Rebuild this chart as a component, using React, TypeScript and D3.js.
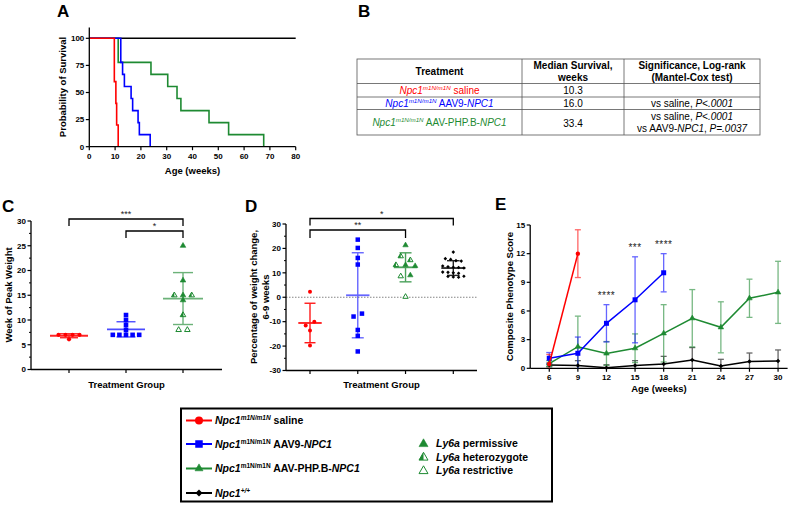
import React from 'react';
import * as d3 from 'd3';

const FONT = "'Liberation Sans', Arial, Helvetica, sans-serif";
const RED = '#ff0000';
const BLUE = '#0000ff';
const GREEN = '#1e8a32';
const BLACK = '#000000';

// ---------- Panel A: Kaplan–Meier ----------
const kmWeekTicks = [0, 10, 20, 30, 40, 50, 60, 70, 80];
const kmSurvTicks = [0, 25, 50, 75, 100];
const salineDeathWeeks = [9.7, 10.3, 10.6, 11.2];
const salineSurvival = [60, 40, 20, 0];
const aav9DeathWeeks = [12.2, 12.9, 13.6, 16.2, 16.8, 18.9, 19.4, 23.6];
const aav9Survival = [77.8, 66.7, 55.6, 44.4, 33.3, 22.2, 11.1, 0];
const phpbDeathWeeks = [11.2, 23.9, 30.4, 34.0, 35.5, 46.4, 54.0, 67.6];
const phpbSurvival = [77.8, 66.7, 55.6, 44.4, 33.3, 22.2, 11.1, 0];
const wtEndWeeks = [80];
const wtSurvival = [100];

// ---------- Panel B: table ----------
const tableMedians = ['10.3', '16.0', '33.4'];
const tableVectors = ['saline', 'AAV9-', 'AAV-PHP.B-'];

// ---------- Panel C: week of peak weight ----------
const peakGroups = ['saline', 'AAV9', 'PHPB'];
const peakTicks = [0, 5, 10, 15, 20, 25, 30];
const peakSaline = [7, 7, 6.1, 7, 7];
const peakAAV9 = [7, 7, 7, 7, 7, 8, 9, 10, 11];
const peakPHPB = [25, 18, 15, 15, 15, 14, 11, 8, 8];
const peakPHPBGeno = ['P', 'P', 'H', 'P', 'H', 'P', 'H', 'R', 'R'];

// ---------- Panel D: % weight change ----------
const chgGroups = ['saline', 'AAV9', 'PHPB', 'WT'];
const chgTicks = [-30, -20, -10, 0, 10, 20, 30];
const chgSaline = [2.3, -11.6, -10.0, -13.6, -19.8];
const chgAAV9 = [23.6, 20.2, 16.1, 13.4, -7.9, -6.7, -13.4, -15.8, -22.2];
const chgPHPB = [21.3, 16.8, 15.2, 13.2, 13.2, 12.8, 8.6, 9.0, 0.2];
const chgPHPBGeno = ['P', 'H', 'H', 'H', 'P', 'P', 'R', 'P', 'R'];
const chgWT = [18.5, 15.8, 15.5, 15.0, 14.8, 12.8, 12.5, 12.3, 12.2, 12.0, 10.3, 10.2, 10.0, 9.8, 8.6, 8.5, 8.3, 8.2];

// ---------- Panel E: composite phenotype score ----------
const scoreWeeks = [6, 9, 12, 15, 18, 21, 24, 27, 30];
const scoreTicks = [0, 3, 6, 9, 12, 15];
const scoreSalineMean = [0.45, 12.0];
const scoreSalineSD = [1.0, 2.5];
const scoreAAV9Mean = [1.05, 1.57, 4.71, 7.17, 10.0];
const scoreAAV9SD = [0.6, 1.7, 1.95, 4.5, 2.0];
const scorePHPBMean = [0.5, 2.26, 1.55, 2.1, 3.66, 5.24, 4.29, 7.33, 7.95];
const scorePHPBSD = [0.3, 3.2, 1.25, 1.5, 3.0, 3.0, 2.67, 2.0, 3.25];
const scoreWTMean = [0.35, 0.3, 0.07, 0.3, 0.45, 0.87, 0.24, 0.7, 0.77];
const scoreWTSD = [0.2, 0.5, 0.3, 0.5, 0.8, 1.3, 0.7, 0.9, 1.15];
const starWeeks = [12, 15, 18];
const starLabels = ['****', '***', '****'];

// ---------- helpers ----------
function jitter(vals: number[], y: (v: number) => number, spacing: number, thr = 4.2) {
  const idx = vals.map((_, i) => i).sort((a, b) => vals[b] - vals[a]);
  const offs = new Array(vals.length).fill(0);
  let row: number[] = [];
  const flush = () => {
    const r = [...row].sort((a, b) => a - b);
    r.forEach((k, j) => { offs[k] = (j - (r.length - 1) / 2) * spacing; });
    row = [];
  };
  idx.forEach(i => {
    if (row.length && Math.abs(y(vals[i]) - y(vals[row[0]])) > thr) flush();
    row.push(i);
  });
  flush();
  return offs;
}

function Tri({ x, y, s, color, kind }: any) {
  const h = (s * Math.sqrt(3)) / 2;
  const top = `${x},${y - (h * 2) / 3}`;
  const bl = `${x - s / 2},${y + h / 3}`;
  const br = `${x + s / 2},${y + h / 3}`;
  const bm = `${x},${y + h / 3}`;
  const full = `M${top}L${bl}L${br}Z`;
  if (kind === 'P') return <path d={full} fill={color} stroke={color} strokeWidth={0.6} />;
  if (kind === 'R') return <path d={full} fill="#fff" stroke={color} strokeWidth={1} />;
  return (
    <g>
      <path d={`M${top}L${bl}L${bm}Z`} fill={color} />
      <path d={full} fill="none" stroke={color} strokeWidth={1} />
    </g>
  );
}

function Marker({ shape, x, y, size, color }: any) {
  if (shape === 'circle') return <circle cx={x} cy={y} r={size / 2} fill={color} />;
  if (shape === 'square') return <rect x={x - size / 2} y={y - size / 2} width={size} height={size} fill={color} />;
  if (shape === 'diamond') {
    const r = size / 2;
    return <path d={`M${x},${y - r}L${x + r},${y}L${x},${y + r}L${x - r},${y}Z`} fill={color} />;
  }
  return <Tri x={x} y={y} s={size} color={color} kind="P" />;
}

function YAxis({ scale, x, ticks, minor = [], top, fs = 8 }: any) {
  const [r0, r1] = scale.range();
  return (
    <g>
      <line x1={x} x2={x} y1={top ?? r1} y2={r0} stroke="#000" strokeWidth={1.3} />
      {ticks.map((t: number) => (
        <g key={t}>
          <line x1={x - 3.5} x2={x} y1={scale(t)} y2={scale(t)} stroke="#000" strokeWidth={1.2} />
          <text x={x - 5} y={scale(t)} dy="0.35em" textAnchor="end" fontSize={fs} fontWeight="bold">{t}</text>
        </g>
      ))}
      {minor.map((t: number) => (
        <line key={'m' + t} x1={x - 2} x2={x} y1={scale(t)} y2={scale(t)} stroke="#000" strokeWidth={1} />
      ))}
    </g>
  );
}

function XAxis({ y, x0, x1, ticks, labels, fs = 8 }: any) {
  return (
    <g>
      <line x1={x0} x2={x1} y1={y} y2={y} stroke="#000" strokeWidth={1.3} />
      {ticks.map((t: number, i: number) => (
        <g key={i}>
          <line x1={t} x2={t} y1={y} y2={y + 3.5} stroke="#000" strokeWidth={1.2} />
          {labels && (
            <text x={t} y={y + 12} textAnchor="middle" fontSize={fs} fontWeight="bold">{labels[i]}</text>
          )}
        </g>
      ))}
    </g>
  );
}

function MeanSD({ cx, vals, y, color, meanHalf, capHalf, opacity = 0.75 }: any) {
  const m = d3.mean(vals) as number;
  const sd = d3.deviation(vals) as number;
  return (
    <g stroke={color} strokeWidth={1.4} opacity={opacity}>
      <line x1={cx} x2={cx} y1={y(m + sd)} y2={y(m - sd)} />
      <line x1={cx - capHalf} x2={cx + capHalf} y1={y(m + sd)} y2={y(m + sd)} />
      <line x1={cx - capHalf} x2={cx + capHalf} y1={y(m - sd)} y2={y(m - sd)} />
      <line x1={cx - meanHalf} x2={cx + meanHalf} y1={y(m)} y2={y(m)} strokeWidth={1.8} />
    </g>
  );
}

function Bracket({ x0, x1, y, drop, label }: any) {
  return (
    <g>
      <path d={`M${x0},${y + drop}V${y}H${x1}V${y + drop}`} fill="none" stroke="#000" strokeWidth={1.3} />
      <text x={(x0 + x1) / 2} y={y - 2} textAnchor="middle" fontSize={9} fill="#222">{label}</text>
    </g>
  );
}

function Npc({ color, sup, supItalic = true, fs = 10, bold = false, rest }: any) {
  return (
    <>
      <tspan fontStyle="italic" fill={color} fontWeight={bold ? 'bold' : 'normal'}>Npc1</tspan>
      <tspan fontStyle={supItalic ? 'italic' : 'normal'} fontSize={fs * 0.62} dy={-fs * 0.38} fill={color}>{sup}</tspan>
      <tspan dy={fs * 0.38} fill={color}>{rest}</tspan>
    </>
  );
}

export default function App() {
  // ---------------- Panel A ----------------
  const xA = d3.scaleLinear().domain([0, 80]).range([89.3, 295.7]);
  const yA = d3.scaleLinear().domain([0, 100]).range([146.7, 38.3]);
  const km = d3.line<[number, number]>().x(d => xA(d[0])).y(d => yA(d[1])).curve(d3.curveStepAfter);
  const kmPts = (t: number[], s: number[]) => [[0, 100] as [number, number], ...t.map((w, i) => [w, s[i]] as [number, number])];
  const kmSeries = [
    { pts: kmPts(wtEndWeeks, wtSurvival), color: BLACK },
    { pts: kmPts(phpbDeathWeeks, phpbSurvival), color: GREEN },
    { pts: kmPts(aav9DeathWeeks, aav9Survival), color: BLUE },
    { pts: kmPts(salineDeathWeeks, salineSurvival), color: RED },
  ];

  // ---------------- Panel C ----------------
  const yC = d3.scaleLinear().domain([0, 30]).range([369.5, 221]);
  const xC = d3.scalePoint().domain(peakGroups).range([69, 183]);
  const cxS = xC('saline') as number, cxA = xC('AAV9') as number, cxP = xC('PHPB') as number;
  const jS = jitter(peakSaline, yC, 7);
  const jA = jitter(peakAAV9, yC, 6.6);
  const jP = jitter(peakPHPB, yC, 8.7);

  // ---------------- Panel D ----------------
  const yD = d3.scaleLinear().domain([-30, 30]).range([370.5, 224]);
  const xD = d3.scalePoint().domain(chgGroups).range([310, 453.3]);
  const dS = xD('saline') as number, dA = xD('AAV9') as number, dP = xD('PHPB') as number, dW = xD('WT') as number;
  const kS = jitter(chgSaline, yD, 8.6);
  const kA = jitter(chgAAV9, yD, 8.4);
  const kP = jitter(chgPHPB, yD, 9.6);
  const kW = jitter(chgWT, yD, 5.3);

  // ---------------- Panel E ----------------
  const xE = d3.scaleLinear().domain([4, 31]).range([530.2, 787.6]);
  const yE = d3.scaleLinear().domain([0, 15]).range([368.3, 225]);
  const lineE = d3.line<number>();
  const eSeries = [
    { mean: scoreWTMean, sd: scoreWTSD, color: BLACK, shape: 'diamond', size: 4.5 },
    { mean: scorePHPBMean, sd: scorePHPBSD, color: GREEN, shape: 'tri', size: 5.5 },
    { mean: scoreAAV9Mean, sd: scoreAAV9SD, color: BLUE, shape: 'square', size: 5 },
    { mean: scoreSalineMean, sd: scoreSalineSD, color: RED, shape: 'circle', size: 4.4 },
  ];

  const tL = 357, tC1 = 522, tC2 = 624, tR = 760;
  const tRows = [59, 83.5, 97, 109.5, 135];
  const colMid = [(tL + tC1) / 2, (tC1 + tC2) / 2, (tC2 + tR) / 2];

  return (
    <svg width={799} height={506} style={{ position: 'absolute', left: 0, top: 0, background: '#fff' }} fontFamily={FONT}>
      <rect width={799} height={506} fill="#fff" />
      {/* Panel letters */}
      {[['A', 57, 17], ['B', 358, 17], ['C', 2, 212], ['D', 245, 212], ['E', 495, 210]].map(([l, x, y]) => (
        <text key={l as string} x={x as number} y={y as number} fontSize={17} fontWeight="bold">{l}</text>
      ))}

      {/* ===== Panel A ===== */}
      <g>
        {kmSeries.map((s, i) => (
          <path key={i} d={km(s.pts) as string} fill="none" stroke={s.color} strokeWidth={1.6} />
        ))}
        <YAxis scale={yA} x={89.3} ticks={kmSurvTicks} top={yA(110)} />
        <XAxis y={146.7} x0={89.3} x1={xA(80)} ticks={kmWeekTicks.map(t => xA(t))} labels={kmWeekTicks} />
        <text transform="translate(66,87) rotate(-90)" textAnchor="middle" fontSize={9.5} fontWeight="bold">Probability of Survival</text>
        <text x={(xA(0) + xA(80)) / 2} y={174} textAnchor="middle" fontSize={9.5} fontWeight="bold">Age (weeks)</text>
      </g>

      {/* ===== Panel B ===== */}
      <g fontSize={10}>
        <rect x={tL} y={tRows[0]} width={tR - tL} height={tRows[4] - tRows[0]} fill="none" stroke="#555" strokeWidth={0.8} />
        {tRows.slice(1, 4).map(r => <line key={r} x1={tL} x2={tR} y1={r} y2={r} stroke="#555" strokeWidth={0.8} />)}
        {[tC1, tC2].map(c => <line key={c} x1={c} x2={c} y1={tRows[0]} y2={tRows[4]} stroke="#555" strokeWidth={0.8} />)}
        <text x={colMid[0]} y={74.5} textAnchor="middle" fontWeight="bold">Treatment</text>
        <text x={colMid[1]} y={68.5} textAnchor="middle" fontWeight="bold">Median Survival,</text>
        <text x={colMid[1]} y={80.5} textAnchor="middle" fontWeight="bold">weeks</text>
        <text x={colMid[2]} y={68.5} textAnchor="middle" fontWeight="bold">Significance, Log-rank</text>
        <text x={colMid[2]} y={80.5} textAnchor="middle" fontWeight="bold">(Mantel-Cox test)</text>
        <text x={colMid[0]} y={93.5} textAnchor="middle"><Npc color={RED} sup="m1N/m1N" rest={' ' + tableVectors[0]} /></text>
        <text x={colMid[0]} y={107} textAnchor="middle">
          <Npc color={BLUE} sup="m1N/m1N" rest={' ' + tableVectors[1]} />
          <tspan fill={BLUE} fontStyle="italic">NPC1</tspan>
        </text>
        <text x={colMid[0]} y={126} textAnchor="middle">
          <Npc color={GREEN} sup="m1N/m1N" rest={' ' + tableVectors[2]} />
          <tspan fill={GREEN} fontStyle="italic">NPC1</tspan>
        </text>
        <text x={colMid[1]} y={93.5} textAnchor="middle">{tableMedians[0]}</text>
        <text x={colMid[1]} y={107} textAnchor="middle">{tableMedians[1]}</text>
        <text x={colMid[1]} y={126.5} textAnchor="middle">{tableMedians[2]}</text>
        <text x={colMid[2]} y={107} textAnchor="middle">vs saline, <tspan fontStyle="italic">P&lt;.0001</tspan></text>
        <text x={colMid[2]} y={120} textAnchor="middle">vs saline, <tspan fontStyle="italic">P&lt;.0001</tspan></text>
        <text x={colMid[2]} y={132} textAnchor="middle">vs AAV9-<tspan fontStyle="italic">NPC1</tspan>, <tspan fontStyle="italic">P=.0037</tspan></text>
      </g>

      {/* ===== Panel C ===== */}
      <g>
        <YAxis scale={yC} x={31} ticks={peakTicks} minor={peakTicks.slice(0, -1).map(t => t + 2.5)} />
        <XAxis y={369.5} x0={31} x1={222} ticks={[cxS, cxA, cxP]} />
        <text transform="translate(12,295) rotate(-90)" textAnchor="middle" fontSize={9.5} fontWeight="bold">Week of Peak Weight</text>
        <text x={126.5} y={388} textAnchor="middle" fontSize={9.5} fontWeight="bold">Treatment Group</text>
        <MeanSD cx={cxS} vals={peakSaline} y={yC} color={RED} meanHalf={19} capHalf={9} opacity={0.85} />
        <MeanSD cx={cxA} vals={peakAAV9} y={yC} color={BLUE} meanHalf={19} capHalf={9.5} opacity={0.7} />
        <MeanSD cx={cxP} vals={peakPHPB} y={yC} color={GREEN} meanHalf={20} capHalf={10} opacity={0.65} />
        {peakSaline.map((v, i) => <Marker key={'cs' + i} shape="circle" x={cxS + jS[i]} y={yC(v)} size={4.2} color={RED} />)}
        {peakAAV9.map((v, i) => <Marker key={'ca' + i} shape="square" x={cxA + jA[i]} y={yC(v)} size={4.6} color={BLUE} />)}
        {peakPHPB.map((v, i) => <Tri key={'cp' + i} x={cxP + jP[i]} y={yC(v)} s={5.6} color={GREEN} kind={peakPHPBGeno[i]} />)}
        <Bracket x0={cxS} x1={cxP} y={219} drop={7} label="***" />
        <Bracket x0={cxA} x1={cxP} y={231} drop={7} label="*" />
      </g>

      {/* ===== Panel D ===== */}
      <g>
        <line x1={286} x2={477} y1={yD(0)} y2={yD(0)} stroke="#777" strokeWidth={0.9} strokeDasharray="1.5,1.5" />
        <YAxis scale={yD} x={286} ticks={chgTicks} minor={chgTicks.slice(0, -1).map(t => t + 5)} />
        <XAxis y={370.5} x0={286} x1={477} ticks={[dS, dA, dP, dW]} />
        <text transform="translate(257,297) rotate(-90)" textAnchor="middle" fontSize={9.5} fontWeight="bold">Percentage of weight change,</text>
        <text transform="translate(268.5,297) rotate(-90)" textAnchor="middle" fontSize={9.5} fontWeight="bold">6-9 weeks</text>
        <text x={381.5} y={388} textAnchor="middle" fontSize={9.5} fontWeight="bold">Treatment Group</text>
        <MeanSD cx={dS} vals={chgSaline} y={yD} color={RED} meanHalf={11.7} capHalf={5.5} opacity={0.9} />
        <MeanSD cx={dA} vals={chgAAV9} y={yD} color={BLUE} meanHalf={11.7} capHalf={6} opacity={0.6} />
        <MeanSD cx={dP} vals={chgPHPB} y={yD} color={GREEN} meanHalf={11.7} capHalf={6} opacity={0.8} />
        <MeanSD cx={dW} vals={chgWT} y={yD} color={BLACK} meanHalf={12} capHalf={6.3} opacity={0.85} />
        {chgSaline.map((v, i) => <Marker key={'ds' + i} shape="circle" x={dS + kS[i]} y={yD(v)} size={4} color={RED} />)}
        {chgAAV9.map((v, i) => <Marker key={'da' + i} shape="square" x={dA + kA[i]} y={yD(v)} size={4.5} color={BLUE} />)}
        {chgPHPB.map((v, i) => <Tri key={'dp' + i} x={dP + kP[i]} y={yD(v)} s={5.4} color={GREEN} kind={chgPHPBGeno[i]} />)}
        {chgWT.map((v, i) => <Marker key={'dw' + i} shape="diamond" x={dW + kW[i]} y={yD(v)} size={3.6} color={BLACK} />)}
        <Bracket x0={dS} x1={dW} y={218.5} drop={7} label="*" />
        <Bracket x0={dS} x1={dP} y={230} drop={8} label="**" />
      </g>

      {/* ===== Panel E ===== */}
      <g>
        <YAxis scale={yE} x={530.2} ticks={scoreTicks} />
        <XAxis y={368.3} x0={530.2} x1={787.6} ticks={scoreWeeks.map(w => xE(w))} labels={scoreWeeks} />
        <text transform="translate(513,296.7) rotate(-90)" textAnchor="middle" fontSize={9.5} fontWeight="bold">Composite Phenotype Score</text>
        <text x={(530.2 + 787.6) / 2} y={392} textAnchor="middle" fontSize={9.5} fontWeight="bold">Age (weeks)</text>
        {eSeries.map((s, si) => (
          <g key={si}>
            {s.mean.map((m, i) => {
              const x = xE(scoreWeeks[i]);
              const hi = yE(m + s.sd[i]);
              const lo = yE(Math.max(0, m - s.sd[i]));
              return (
                <g key={i} stroke={s.color} strokeWidth={1.3} opacity={0.6}>
                  <line x1={x} x2={x} y1={hi} y2={lo} />
                  <line x1={x - 3} x2={x + 3} y1={hi} y2={hi} />
                  {m - s.sd[i] > 0 && <line x1={x - 3} x2={x + 3} y1={lo} y2={lo} />}
                </g>
              );
            })}
          </g>
        ))}
        {eSeries.map((s, si) => (
          <g key={'l' + si}>
            <path d={lineE(s.mean.map((m, i) => [xE(scoreWeeks[i]), yE(m)] as any)) as string} fill="none" stroke={s.color} strokeWidth={1.5} />
            {s.mean.map((m, i) => <Marker key={i} shape={s.shape} x={xE(scoreWeeks[i])} y={yE(m)} size={s.size} color={s.color} />)}
          </g>
        ))}
        {starWeeks.map((w, i) => {
          const k = scoreWeeks.indexOf(w);
          return (
            <text key={w} x={xE(w)} y={yE(scoreAAV9Mean[k] + scoreAAV9SD[k]) - 6} textAnchor="middle" fontSize={10} fill="#222" letterSpacing={0.5}>{starLabels[i]}</text>
          );
        })}
      </g>

      {/* ===== Legend ===== */}
      <g fontSize={10.5} fontWeight="bold">
        <rect x={181} y={408.5} width={371} height={93} fill="none" stroke="#000" strokeWidth={2} />
        {[
          { y: 420.5, color: RED, shape: 'circle', size: 8, sup: 'm1N/m1N', supItalic: true, rest: ' saline', extra: '' },
          { y: 444, color: BLUE, shape: 'square', size: 7.5, sup: 'm1N/m1N', supItalic: false, rest: ' AAV9-', extra: 'NPC1' },
          { y: 468.5, color: GREEN, shape: 'tri', size: 8, sup: 'm1N/m1N', supItalic: false, rest: ' AAV-PHP.B-', extra: 'NPC1' },
          { y: 493, color: BLACK, shape: 'diamond', size: 7, sup: '+/+', supItalic: true, rest: '', extra: '' },
        ].map((e, i) => (
          <g key={i}>
            <line x1={186} x2={212} y1={e.y} y2={e.y} stroke={e.color} strokeWidth={2} />
            <Marker shape={e.shape} x={199} y={e.y} size={e.size} color={e.color} />
            <text x={215} y={e.y} dy="0.35em">
              <tspan fontStyle="italic">Npc1</tspan>
              <tspan fontStyle={e.supItalic ? 'italic' : 'normal'} fontSize={6.5} dy={-4}>{e.sup}</tspan>
              <tspan dy={4}>{e.rest}</tspan>
              {e.extra && <tspan fontStyle="italic">{e.extra}</tspan>}
            </text>
          </g>
        ))}
        {[
          { y: 443.5, kind: 'P', label: ' permissive' },
          { y: 457, kind: 'H', label: ' heterozygote' },
          { y: 470.5, kind: 'R', label: ' restrictive' },
        ].map((e, i) => (
          <g key={'g' + i}>
            <Tri x={423.5} y={e.y + 0.5} s={9} color={GREEN} kind={e.kind} />
            <text x={436} y={e.y} dy="0.35em">
              <tspan fontStyle="italic">Ly6a</tspan>
              <tspan>{e.label}</tspan>
            </text>
          </g>
        ))}
      </g>
    </svg>
  );
}
